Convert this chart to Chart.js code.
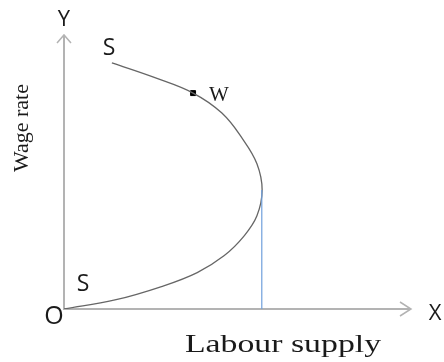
<!DOCTYPE html>
<html lang="en">
<head>
<meta charset="UTF-8">
<title>Labour supply curve</title>
<script src="https://cdn.jsdelivr.net/npm/chart.js"></script>
<style>
  html, body { margin: 0; padding: 0; background: #fff; }
</style>
</head>
<body>
<canvas id="myChart" width="444" height="362"></canvas>
<script>
  // backward-bending supply curve (x = labour supply, y = wage rate)
  var supplyX = [0, 14.7, 28.1, 38.4, 46.2, 51.8, 55.6, 57.1, 55.6, 51.5, 45.5, 37.2, 26.0, 13.8];
  var supplyY = [0, 3.3, 8.2, 13.3, 19.5, 26.5, 34.0, 43.4, 53.0, 62.0, 71.5, 78.8, 84.5, 89.8];
  var pointWX = [37.2];
  var pointWY = [78.8];
  var dropX = [57.0, 57.0];
  var dropY = [0, 43.4];
  var xTitle = 'Labour supply';
  var yTitle = 'Wage rate';

  function toPoints(xs, ys) {
    return xs.map(function(x, i) { return {x: x, y: ys[i]}; });
  }

  // axes with open arrow heads, drawn from the scales
  var axesPlugin = {
    id: 'axes',
    beforeDatasetsDraw: function(chart) {
      var ctx = chart.ctx;
      var xs = chart.scales.x, ys = chart.scales.y;
      var x0 = xs.getPixelForValue(0), y0 = ys.getPixelForValue(0);
      var xEnd = xs.getPixelForValue(xs.max), yEnd = ys.getPixelForValue(ys.max);
      ctx.save();
      ctx.strokeStyle = '#b3b3b3';
      ctx.lineWidth = 2;
      ctx.beginPath();
      ctx.moveTo(x0, yEnd); ctx.lineTo(x0, y0); ctx.lineTo(xEnd, y0);
      ctx.stroke();
      ctx.lineWidth = 1.5;
      ctx.beginPath();
      ctx.moveTo(x0 - 7, yEnd + 8); ctx.lineTo(x0, yEnd); ctx.lineTo(x0 + 7, yEnd + 8);
      ctx.moveTo(xEnd - 11, y0 - 7); ctx.lineTo(xEnd, y0); ctx.lineTo(xEnd - 11, y0 + 7);
      ctx.stroke();
      ctx.restore();
    },
    afterDraw: function(chart) {
      var ctx = chart.ctx;
      var xs = chart.scales.x, ys = chart.scales.y;
      var x0 = xs.getPixelForValue(0), y0 = ys.getPixelForValue(0);
      ctx.save();
      ctx.fillStyle = '#1a1a1a';
      ctx.textAlign = 'center';
      ctx.textBaseline = 'middle';
      ctx.font = '22px "Open Sans"';
      ctx.fillText('Y', x0, 20);
      ctx.fillText('X', 435, y0 + 5);
      ctx.font = '25px "Open Sans"';
      ctx.fillText('O', x0 - 10, y0 + 8);
      ctx.font = '23px "Open Sans"';
      ctx.fillText('S', 109, 48);
      ctx.fillText('S', 83, 284);
      ctx.font = '21px "Liberation Serif"';
      ctx.fillText('W', 219, 95);

      // y title, rotated
      ctx.save();
      ctx.translate(22, 128);
      ctx.rotate(-Math.PI / 2);
      ctx.font = '22px "Liberation Serif"';
      ctx.fillText(yTitle, 0, 0);
      ctx.restore();

      // x title, stretched like the original
      ctx.save();
      ctx.translate(283, 345);
      ctx.scale(1.3, 1);
      ctx.font = '26px "Liberation Serif"';
      ctx.fillText(xTitle, 0, 0);
      ctx.restore();
      ctx.restore();
    }
  };

  var ctx = document.getElementById('myChart').getContext('2d');
  var chart = new Chart(ctx, {
    type: 'scatter',
    data: {
      datasets: [{
        label: 'drop',
        data: toPoints(dropX, dropY),
        showLine: true,
        borderColor: '#6f9fdc',
        borderWidth: 1.2,
        pointRadius: 0
      }, {
        label: 'S',
        data: toPoints(supplyX, supplyY),
        showLine: true,
        borderColor: '#666',
        borderWidth: 1.3,
        tension: 0.4,
        pointRadius: 0
      }, {
        label: 'W',
        data: toPoints(pointWX, pointWY),
        pointStyle: 'rect',
        pointRadius: 3.5,
        backgroundColor: '#000',
        borderColor: '#000'
      }]
    },
    options: {
      responsive: false,
      animation: false,
      layout: { padding: { left: 64, right: 33, top: 35, bottom: 53 } },
      plugins: { legend: { display: false }, tooltip: { enabled: false } },
      scales: {
        x: { display: false, min: 0, max: 100 },
        y: { display: false, min: 0, max: 100 }
      }
    },
    plugins: [axesPlugin]
  });
</script>
</body>
</html>
